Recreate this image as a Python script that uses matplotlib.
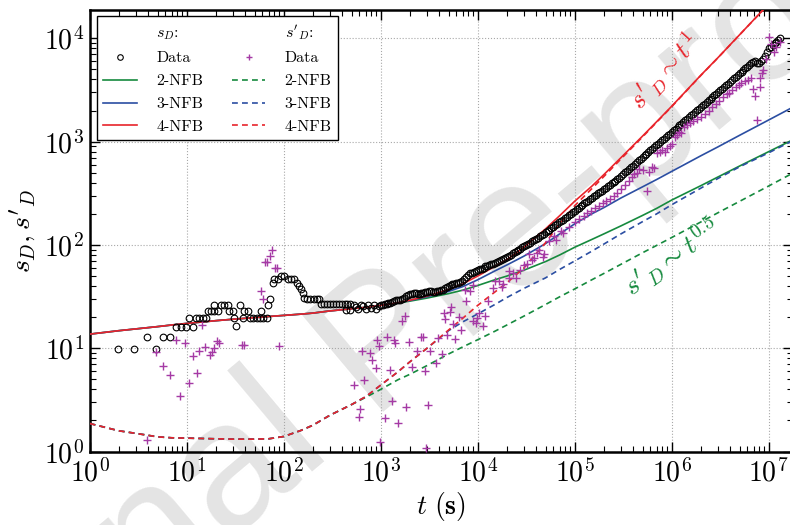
import numpy as np
import matplotlib
matplotlib.use("Agg")
import matplotlib.pyplot as plt
from matplotlib.lines import Line2D

plt.rcParams['mathtext.fontset'] = 'cm'
plt.rcParams['font.family'] = 'serif'
plt.rcParams['font.serif'] = ['cmr10']
plt.rcParams['axes.formatter.use_mathtext'] = True

GREEN = '#168a3e'
BLUE = '#2b4ea2'
RED = '#e8242b'
PURPLE = '#a53aa5'

# ---- s_D data (circles), early scattered part ----
t_sd_early = [1.94, 2.88, 3.87, 4.83, 5.74, 6.71, 7.76, 8.74, 9.85, 11.7,
              10.6, 12.5, 13.5, 14.6, 15.8, 16.4, 17.8, 19.2, 20.8, 19.2,
              22.5, 24.4, 26.4, 27.4, 29.7, 30.6, 32.2, 35.4, 38.2, 39.1,
              42.4, 45, 48.6, 52.6, 57, 58.3, 61.7, 66.7, 68.3, 72.2,
              77.3, 80, 86.6, 93.7, 101, 110, 119, 129, 136, 144,
              149, 157, 162, 174, 188, 203, 218, 233, 245, 262,
              280, 300, 322, 345, 370, 396, 424, 454, 486, 437,
              480, 525, 560, 590, 620, 660, 700, 740, 790, 850,
              900, 950]
sd_early = [9.85, 9.85, 12.9, 9.85, 12.9, 12.9, 16.0, 16.0, 16.0, 16.0,
            19.5, 19.5, 19.5, 19.5, 19.5, 23.0, 23.0, 23.0, 23.0, 26.3,
            26.3, 26.3, 26.3, 23.0, 23.0, 19.8, 16.4, 26.3, 19.8, 23.0,
            23.0, 19.8, 19.8, 19.8, 19.8, 23.0, 19.8, 19.8, 26.3, 29.9,
            43.2, 46.6, 46.6, 50.1, 50.1, 46.6, 46.6, 46.6, 43.2, 40.2,
            37.1, 34.1, 30.6, 29.8, 29.8, 29.8, 29.8, 29.8, 26.8, 26.8,
            26.8, 26.8, 26.8, 26.8, 26.8, 26.8, 26.8, 26.8, 26.8, 23.5,
            23.5, 26.0, 25.0, 24.0, 26.0, 25.5, 24.0, 26.0, 24.5, 26.0,
            23.8, 25.5]

# ---- s_D data, dense late part ----
t_sd_late = [1000, 1047, 1096, 1148, 1202, 1259, 1318, 1380, 1445, 1514,
             1585, 1660, 1738, 1820, 1905, 1995, 2089, 2188, 2291, 2399,
             2512, 2630, 2754, 2884, 3020, 3162, 3311, 3467, 3631, 3802,
             3981, 4169, 4365, 4571, 4786, 5012, 5248, 5495, 5754, 6026,
             6310, 6607, 6918, 7244, 7586, 7943, 8318, 8710, 9120, 9550,
             1.000e4, 1.047e4, 1.096e4, 1.148e4, 1.202e4, 1.259e4, 1.318e4, 1.380e4, 1.445e4, 1.514e4,
             1.585e4, 1.660e4, 1.738e4, 1.820e4, 1.905e4, 1.995e4, 2.089e4, 2.188e4, 2.291e4, 2.399e4,
             2.512e4, 2.630e4, 2.754e4, 2.884e4, 3.020e4, 3.162e4, 3.311e4, 3.467e4, 3.631e4, 3.802e4,
             3.981e4, 4.169e4, 4.365e4, 4.571e4, 4.786e4, 5.012e4, 5.248e4, 5.495e4, 5.754e4, 6.026e4,
             6.310e4, 6.607e4, 6.918e4, 7.244e4, 7.586e4, 7.943e4, 8.318e4, 8.710e4, 9.120e4, 9.550e4,
             1.000e5, 1.047e5, 1.096e5, 1.148e5, 1.202e5, 1.259e5, 1.318e5, 1.380e5, 1.445e5, 1.514e5,
             1.585e5, 1.660e5, 1.738e5, 1.820e5, 1.905e5, 1.995e5, 2.089e5, 2.188e5, 2.291e5, 2.399e5,
             2.512e5, 2.630e5, 2.754e5, 2.884e5, 3.020e5, 3.162e5, 3.311e5, 3.467e5, 3.631e5, 3.802e5,
             3.981e5, 4.169e5, 4.365e5, 4.571e5, 4.786e5, 5.012e5, 5.248e5, 5.495e5, 5.754e5, 6.026e5,
             6.310e5, 6.607e5, 6.918e5, 7.244e5, 7.586e5, 7.943e5, 8.318e5, 8.710e5, 9.120e5, 9.550e5,
             1.000e6, 1.047e6, 1.096e6, 1.148e6, 1.202e6, 1.259e6, 1.318e6, 1.380e6, 1.445e6, 1.514e6,
             1.585e6, 1.660e6, 1.738e6, 1.820e6, 1.905e6, 1.995e6, 2.089e6, 2.188e6, 2.291e6, 2.399e6,
             2.512e6, 2.630e6, 2.754e6, 2.884e6, 3.020e6, 3.162e6, 3.311e6, 3.467e6, 3.631e6, 3.802e6,
             3.981e6, 4.169e6, 4.365e6, 4.571e6, 4.786e6, 5.012e6, 5.248e6, 5.495e6, 5.754e6, 6.026e6,
             6.310e6, 6.607e6, 6.918e6, 7.244e6, 7.586e6, 7.943e6, 8.318e6, 8.710e6, 9.120e6, 9.550e6,
             1.000e7, 1.047e7, 1.096e7, 1.148e7, 1.202e7, 1.259e7, 1.318e7]
sd_late = [26.5, 26.5, 27, 27, 27.5, 27.5, 28, 28.5, 29, 29,
           29.5, 30, 31, 32, 33, 33.5, 33.5, 34, 34, 33.5,
           33.5, 34, 34.5, 35, 35, 35.5, 35.5, 35, 35, 35.5,
           36, 36.5, 37, 38, 39, 40, 41, 41.5, 42, 42.5,
           43, 44, 45, 47, 49, 51, 53, 54, 55, 56,
           57, 58, 59, 60.5, 62, 63, 64, 65, 66, 67.5,
           69, 70.5, 72, 73.5, 75, 76.5, 78, 80.5, 83, 85.5,
           88, 90, 92, 94.5, 97, 99.5, 102, 105, 108, 111,
           114, 117.5, 121, 124.5, 128, 132, 136, 140.5, 145, 150,
           155, 160, 165, 170.5, 176, 182, 188, 194.5, 201, 208,
           215, 222, 229, 236.5, 244, 252, 260, 268.5, 277, 286,
           295, 304.5, 318, 322, 335, 346, 357, 369, 381, 393.5,
           406, 419.5, 433, 448, 465, 485, 506, 525, 545, 566,
           587, 610, 633, 657, 682, 708, 735, 763, 792, 822,
           853, 885, 919, 954, 990, 1028, 1067, 1107, 1149, 1193,
           1238, 1285, 1334, 1385, 1438, 1492, 1549, 1608, 1669, 1733,
           1798, 1867, 1937, 2011, 2087, 2166, 2249, 2334, 2423, 2515,
           2610, 2709, 2812, 2919, 3030, 3145, 3265, 3389, 3518, 3651,
           3790, 3934, 4084, 4239, 4400, 4567, 4741, 4921, 5108, 5302,
           5503, 5712, 5929, 6000, 5800, 5800, 6000, 6300, 6700, 7300,
           7990, 8290, 8609, 8930, 9276, 9630, 9994]

# ---- s'_D data (plus markers) ----
t_sdp = [3.87, 4.8, 5.65, 6.7, 7.8, 8.5, 9.7, 10.6, 11.7, 12.7,
         13.5, 14.5, 15.5, 17.2, 18.3, 19.3, 20.5, 21.5, 37, 39,
         58, 60.6, 64, 67, 72, 76, 81, 86, 90,
         530, 596, 640, 670, 610, 780, 820, 890, 920, 970,
         990, 1100, 1170, 1260, 1320, 1370, 1420, 1500, 1640, 1760,
         1820, 1980, 2100, 2390, 2600, 2700, 2850, 2950, 3080, 3200,
         3700, 3900, 4300, 4500, 4650, 4850, 5200, 5300, 5500, 5800,
         6430, 6700, 7400, 7500, 8400, 8900, 9000, 9600, 9900, 10400,
         11400, 11900, 12900,
         14500, 15000, 16400, 18000, 18400, 21000, 21200, 23000, 24800, 27000,
         29900, 32000, 33700, 36000, 37900, 41000, 42700, 47000, 48000, 54000,
         61000, 64000, 73000, 76000, 87000, 100000, 110000, 124000, 135000, 148000,
         160000, 177000, 195000, 212000, 230000, 253000, 275000, 302000, 330000, 363000,
         390000, 410000, 435000, 460000, 500000, 560000, 590000, 630000, 660000, 710000,
         760000, 800000, 850000, 900000, 950000, 1000000, 1070000, 1130000, 1200000, 1250000,
         1350000, 1450000, 1530000, 1650000, 1830000, 2000000, 2200000, 2400000, 2600000, 2850000,
         3100000, 3400000, 3700000, 3900000, 4200000, 4600000, 4900000, 5200000, 5700000, 6100000,
         6600000, 6900000, 7200000, 7600000, 8100000, 8100000, 8500000, 8800000, 9300000, 10000000,
         10500000, 11300000, 12000000, 13200000]
sdp = [1.3, 9.3, 6.75, 5.5, 12, 3.45, 11.2, 4.6, 8.4, 5.7,
       9.5, 16.9, 10.4, 8.6, 9.3, 10, 11.7, 11.2, 10.8, 10.8,
       35.8, 29.8, 69, 69, 78.6, 89.5, 59.5, 59.5, 10.5,
       4.4, 2.17, 9.4, 4.9, 2.6, 8.95, 7.7, 6.4, 11.9, 10.5,
       1.25, 2.13, 12.9, 6.2, 3.1, 12, 11.2, 1.88, 18.4, 20.6,
       2.69, 11.6, 6.6, 9.5, 12.9, 12.9, 6.0, 1.08, 2.83, 9.5,
       7.25, 12.5, 8.9, 21.9, 19.1, 13.5, 22.2, 25.3, 17.2, 12.2,
       20.2, 15.1, 36.7, 28.5, 35.8, 18.2, 41, 17.5, 19.5, 21.9,
       16.5, 20.6, 28.5,
       38.4, 44.5, 44.6, 39.5, 41.5, 47.5, 55.7, 53, 48, 57,
       64.5, 66, 81, 72, 75, 83, 90, 77, 81, 109,
       122, 112, 137, 130, 148, 168, 180, 192, 205, 214,
       228, 240, 252, 265, 280, 300, 320, 346, 380, 418,
       450, 485, 500, 540, 530, 335, 510, 570, 560, 780,
       800, 830, 800, 860, 900, 955, 1100, 1150, 1240, 1200,
       1380, 1440, 1500, 1600, 1650, 1750, 1860, 2000, 2160, 2300,
       2500, 2700, 2900, 2950, 3160, 3380, 3500, 3700, 3830, 3940,
       4150, 3250, 2760, 1620, 3400, 4100, 4650, 4950, 6250, 10300,
       8800, 7400, 8300, 9300]

# ---- model curves ----
t_mod = [1, 2, 3, 5, 7, 10, 20, 30, 50, 70,
         100, 150, 200, 300, 500, 700, 1e3, 1.5e3, 2e3, 3e3,
         5e3, 7e3, 1e4, 1.5e4, 2e4, 3e4, 5e4, 7e4, 1e5, 1.5e5,
         2e5, 3e5, 5e5, 7e5, 1e6, 2e6, 3e6, 5e6, 1e7, 1.8e7]
sd_2nfb = [13.7, 14.8, 15.4, 16.2, 16.8, 17.4, 18.5, 19.1, 19.8, 20.3,
           20.8, 21.4, 21.9, 23.0, 24.1, 24.9, 26.0, 27.4, 28.6, 30.6,
           33.8, 36.5, 40.5, 46, 50, 57, 69, 80, 95, 113,
           128, 153, 193, 226, 272, 375, 455, 580, 800, 1050]
sd_3nfb = [13.7, 14.8, 15.4, 16.2, 16.8, 17.4, 18.5, 19.1, 19.8, 20.3,
           20.8, 21.4, 21.9, 23.0, 24.1, 24.9, 26.0, 27.5, 29.0, 31.5,
           35.5, 39.5, 46, 56, 64, 78, 103, 128, 160, 200,
           230, 285, 365, 430, 515, 730, 890, 1150, 1620, 2170]
sd_4nfb = [13.7, 14.8, 15.4, 16.2, 16.8, 17.4, 18.5, 19.1, 19.8, 20.3,
           20.8, 21.4, 21.9, 23.0, 24.1, 24.9, 26.0, 27.6, 29.2, 32,
           37, 42, 50, 62, 72, 95, 143, 192, 265, 370,
           480, 700, 1130, 1560, 2200, 4400, 6500, 10800, 21500, 38000]
sdp_2nfb = [1.87, 1.59, 1.5, 1.39, 1.36, 1.35, 1.33, 1.32, 1.32, 1.33,
            1.4, 1.6, 1.8, 2.25, 2.85, 3.35, 4.0, 4.95, 5.6, 6.8,
            8.8, 10.3, 12.1, 14.6, 16.8, 20.5, 26.5, 31.5, 37.5, 46,
            53, 65, 84, 99, 118, 167, 205, 264, 372, 500]
sdp_3nfb = [1.87, 1.59, 1.5, 1.39, 1.36, 1.35, 1.33, 1.32, 1.32, 1.33,
            1.4, 1.6, 1.8, 2.25, 2.85, 3.4, 4.4, 5.9, 7.4, 10,
            14.8, 18, 21.5, 26.5, 31, 38, 48, 58, 70, 87,
            102, 128, 168, 200, 245, 355, 440, 570, 780, 1030]
sdp_4nfb = [1.87, 1.59, 1.5, 1.39, 1.36, 1.35, 1.33, 1.32, 1.32, 1.33,
            1.4, 1.6, 1.8, 2.25, 2.85, 3.4, 4.4, 5.9, 7.4, 10,
            15, 19.5, 26, 35, 43, 60, 105, 160, 240, 350,
            460, 680, 1110, 1540, 2180, 4380, 6480, 10780, 21480, 37900]

fig = plt.figure(figsize=(7.9, 5.25), dpi=100)
fig.patch.set_facecolor('white')

# watermark behind the axes
fig.text(385 / 790, 1 - 350 / 525, 'Journal Pre-proof', rotation=40, fontsize=130,
         family='Liberation Sans', color='#e4e4e4', ha='center', va='center',
         rotation_mode='anchor', zorder=-5)

ax = fig.add_axes([89.7 / 790, 73.4 / 525, 703.3 / 790, 442.1 / 525])
ax.set_facecolor('none')
ax.set_xscale('log')
ax.set_yscale('log')

dash = (0, (3.5, 2.5))
ax.plot(t_mod, sd_2nfb, color=GREEN, lw=1.2, zorder=3)
ax.plot(t_mod, sd_3nfb, color=BLUE, lw=1.2, zorder=3)
ax.plot(t_mod, sd_4nfb, color=RED, lw=1.2, zorder=3)
ax.plot(t_mod, sdp_2nfb, color=GREEN, lw=1.2, ls=dash, zorder=3)
ax.plot(t_mod, sdp_3nfb, color=BLUE, lw=1.2, ls=dash, zorder=3)
ax.plot(t_mod, sdp_4nfb, color=RED, lw=1.2, ls=dash, zorder=3)

circ = dict(ls='none', marker='o', ms=4.8, mfc='none', mec='black', mew=0.8, zorder=4)
ax.plot(t_sd_early, sd_early, **circ)
ax.plot(t_sd_late, sd_late, **circ)
ax.plot(t_sdp, sdp, ls='none', marker='+', ms=5.5, color=PURPLE, mew=1.0, zorder=4)

ax.set_xlim(1, 1.78e7)
ax.set_ylim(1, 1.9e4)

ax.grid(True, which='major', ls=':', color='#a8a8a8', lw=0.8)
ax.tick_params(which='both', direction='in', top=True, right=True)
ax.tick_params(which='major', length=7, width=1.0, labelsize=20, pad=5)
ax.tick_params(which='minor', length=4, width=0.8)
ax.tick_params(axis='y', which='major', pad=4)
for sp in ax.spines.values():
    sp.set_linewidth(1.8)

ax.set_xlabel(r'$t\ \mathbf{(s)}$', fontsize=20, labelpad=2)
ax.set_ylabel(r"$s_D, s'_D$", fontsize=20, labelpad=4)

ax.text(8.6e5, 4800, r"$s'_D\sim t^1$", color=RED, fontsize=19, rotation=48,
        ha='center', va='center', rotation_mode='anchor')
ax.text(1.0e6, 75, r"$s'_D\sim t^{0.5}$", color=GREEN, fontsize=20, rotation=35,
        ha='center', va='center', rotation_mode='anchor')

handles = [
    Line2D([], [], ls='none', label=r'$s_D$:'),
    Line2D([], [], ls='none', marker='o', ms=4, mfc='none', mec='black', mew=0.8, label='Data'),
    Line2D([], [], color=GREEN, lw=1.2, label='2-NFB'),
    Line2D([], [], color=BLUE, lw=1.2, label='3-NFB'),
    Line2D([], [], color=RED, lw=1.2, label='4-NFB'),
    Line2D([], [], ls='none', label=r"$s'_D$:"),
    Line2D([], [], ls='none', marker='+', ms=4, color=PURPLE, mew=1.0, label='Data'),
    Line2D([], [], color=GREEN, lw=1.2, ls=dash, label='2-NFB'),
    Line2D([], [], color=BLUE, lw=1.2, ls=dash, label='3-NFB'),
    Line2D([], [], color=RED, lw=1.2, ls=dash, label='4-NFB'),
]
leg = ax.legend(handles=handles, ncol=2, loc='upper left',
                bbox_to_anchor=(97 / 790, 1 - 16 / 525), bbox_transform=fig.transFigure,
                borderaxespad=0, fontsize=11.5, fancybox=False, edgecolor='black',
                framealpha=1, handlelength=2.1, handletextpad=1.2,
                columnspacing=1.8, labelspacing=0.55)
leg.get_frame().set_linewidth(1.0)
leg.set_zorder(10)

fig.savefig('out.png', dpi=100)
